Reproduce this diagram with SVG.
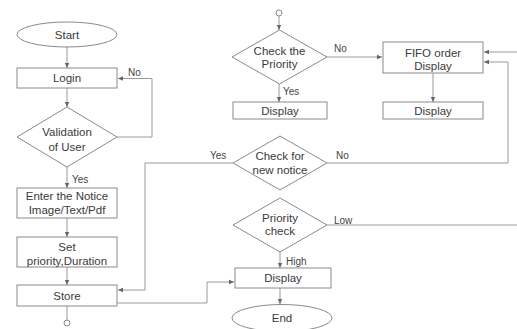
<svg xmlns="http://www.w3.org/2000/svg" width="517" height="329" viewBox="0 0 517 329">
<defs>
<marker id="ah" markerWidth="6" markerHeight="6" refX="5" refY="3" orient="auto" markerUnits="userSpaceOnUse">
<path d="M0,0.8 L5,3 L0,5.2 Z" fill="#666"/>
</marker>
<style>
.s{fill:#fff;stroke:#8a8a8a;stroke-width:1}
.t{font-family:"Liberation Sans",Arial,sans-serif;font-size:11.5px;fill:#3a3a3a;text-anchor:middle;dominant-baseline:central}
.l{font-family:"Liberation Sans",Arial,sans-serif;font-size:10px;fill:#444;dominant-baseline:central}
.c{fill:none;stroke:#9a9a9a;stroke-width:1}
.a{fill:none;stroke:#9a9a9a;stroke-width:1;marker-end:url(#ah)}
</style>
</defs>
<rect width="517" height="329" fill="#fff"/>
<g id="connectors">
<line class="a" x1="67" y1="47" x2="67" y2="68"/>
<line class="a" x1="67" y1="88" x2="67" y2="107"/>
<polyline class="a" points="117,137 152,137 152,78.5 118,78.5"/>
<line class="a" x1="67" y1="167" x2="67" y2="188"/>
<line class="a" x1="67" y1="218" x2="67" y2="237"/>
<line class="a" x1="67" y1="267" x2="67" y2="285"/>
<line class="c" x1="67" y1="306" x2="67" y2="320"/>
<polyline class="a" points="233,163 145,163 145,290 118,290"/>
<polyline class="a" points="117,303 207,303 207,282 234,282"/>
<line class="a" x1="279" y1="16" x2="279" y2="30"/>
<line class="a" x1="327" y1="57" x2="382" y2="57"/>
<line class="a" x1="279" y1="84" x2="279" y2="102"/>
<line class="a" x1="433" y1="73" x2="433" y2="102"/>
<polyline class="a" points="517,52 484,52"/>
<polyline class="a" points="327,163 508,163 508,62 484,62"/>
<line class="c" x1="327" y1="225" x2="517" y2="225"/>
<line class="a" x1="280" y1="252" x2="280" y2="268"/>
<line class="a" x1="280" y1="288" x2="280" y2="304"/>
</g>
<g id="start"><ellipse class="s" cx="67" cy="34.5" rx="50" ry="12.5"/><text class="t" x="67" y="34.5">Start</text></g>
<g id="login"><rect class="s" x="17" y="68" width="100" height="20"/><text class="t" x="67" y="78">Login</text></g>
<g id="validation"><polygon class="s" points="67,107 117,137 67,167 17,137"/><text class="t" x="67" y="132">Validation</text><text class="t" x="67" y="147">of User</text></g>
<g id="enter"><rect class="s" x="17" y="188" width="100" height="30"/><text class="t" x="67" y="196">Enter the Notice</text><text class="t" x="67" y="210">Image/Text/Pdf</text></g>
<g id="setp"><rect class="s" x="17" y="237" width="100" height="30"/><text class="t" x="67" y="247">Set</text><text class="t" x="67" y="261">priority,Duration</text></g>
<g id="store"><rect class="s" x="17" y="285" width="100" height="21"/><text class="t" x="67" y="296">Store</text></g>
<g id="conn1"><circle class="s" cx="67" cy="323" r="3"/></g>
<g id="conn2"><circle class="s" cx="279" cy="13" r="3"/></g>
<g id="checkpri"><polygon class="s" points="279.5,30 327,57 279.5,84 232,57"/><text class="t" x="279.5" y="51">Check the</text><text class="t" x="279.5" y="64">Priority</text></g>
<g id="fifo"><rect class="s" x="383" y="42" width="100" height="31"/><text class="t" x="433" y="53">FIFO order</text><text class="t" x="433" y="66">Display</text></g>
<g id="disp1"><rect class="s" x="233" y="102" width="94" height="17"/><text class="t" x="280" y="110.5">Display</text></g>
<g id="disp2"><rect class="s" x="383" y="102" width="100" height="17"/><text class="t" x="433" y="110.5">Display</text></g>
<g id="checknew"><polygon class="s" points="280,136 327,163 280,190 233,163"/><text class="t" x="280" y="156">Check for</text><text class="t" x="280" y="170">new notice</text></g>
<g id="prichk"><polygon class="s" points="280,198 327,225 280,252 233,225"/><text class="t" x="280" y="218">Priority</text><text class="t" x="280" y="231">check</text></g>
<g id="disp3"><rect class="s" x="235" y="268" width="96" height="20"/><text class="t" x="283" y="278">Display</text></g>
<g id="end"><ellipse class="s" cx="282" cy="318" rx="50" ry="13.5"/><text class="t" x="282" y="318">End</text></g>
<g id="labels">
<text class="l" x="128" y="72">No</text>
<text class="l" x="72" y="179">Yes</text>
<text class="l" x="334" y="48">No</text>
<text class="l" x="283" y="91">Yes</text>
<text class="l" x="210" y="155">Yes</text>
<text class="l" x="336" y="155">No</text>
<text class="l" x="334" y="220">Low</text>
<text class="l" x="286" y="261">High</text>
</g>
</svg>
